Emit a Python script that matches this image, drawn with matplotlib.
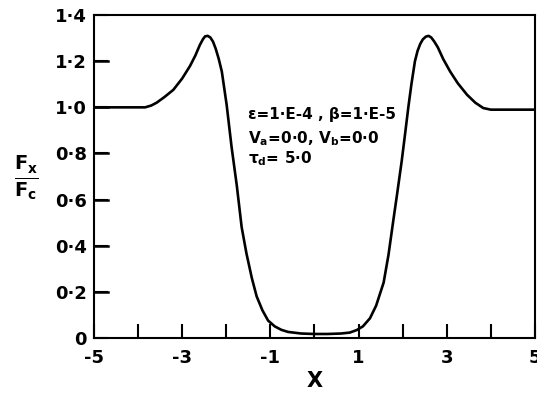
import matplotlib
matplotlib.use("Agg")
import matplotlib.pyplot as plt

# Normalised force ratio Fx/Fc across the domain
x = [-5.0, -4.5, -4.0, -3.84, -3.7, -3.58, -3.4, -3.2, -3.0, -2.82, -2.7, -2.6,
     -2.53, -2.48, -2.42, -2.36, -2.30, -2.24, -2.17, -2.10, -1.99, -1.88, -1.76,
     -1.65, -1.54, -1.42, -1.31, -1.18, -1.05, -0.9, -0.75, -0.6, -0.3, 0.0, 0.3,
     0.6, 0.8, 0.96, 1.1, 1.26, 1.4, 1.57, 1.68, 1.79, 1.88, 1.98, 2.06, 2.13,
     2.2, 2.28, 2.34, 2.40, 2.46, 2.53, 2.59, 2.65, 2.72, 2.80, 2.92, 3.08, 3.25,
     3.46, 3.65, 3.83, 4.0, 4.5, 5.0]
fx_fc = [1.0, 1.0, 1.0, 1.0, 1.008, 1.02, 1.045, 1.076, 1.125, 1.18, 1.225, 1.27,
         1.295, 1.308, 1.31, 1.303, 1.285, 1.255, 1.21, 1.155, 1.01, 0.83, 0.66,
         0.48, 0.365, 0.26, 0.18, 0.12, 0.075, 0.05, 0.035, 0.026, 0.019, 0.017,
         0.017, 0.019, 0.023, 0.034, 0.05, 0.085, 0.14, 0.24, 0.36, 0.51, 0.63,
         0.767, 0.89, 1.0, 1.1, 1.2, 1.245, 1.275, 1.295, 1.307, 1.31, 1.303,
         1.285, 1.26, 1.21, 1.155, 1.105, 1.055, 1.02, 0.997, 0.99, 0.99, 0.99]

x_ticks = [-5, -4, -3, -2, -1, 0, 1, 2, 3, 4, 5]
x_tick_labels = ['-5', '', '-3', '', '-1', '', '1', '', '3', '', '5']
y_ticks = [0, 0.2, 0.4, 0.6, 0.8, 1.0, 1.2, 1.4]
y_tick_labels = ['0', '0·2', '0·4', '0·6', '0·8', '1·0', '1·2', '1·4']

plt.rcParams['font.family'] = ['DejaVu Sans']
plt.rcParams['font.weight'] = 'bold'
plt.rcParams['mathtext.default'] = 'bf'

fig = plt.figure(figsize=(5.37, 3.98), dpi=100)
ax = fig.add_axes([0.175, 0.151, 0.821, 0.811])

ax.plot(x, fx_fc, color='black', linewidth=1.9, solid_joinstyle='round')

ax.set_xlim(-5, 5)
ax.set_ylim(0, 1.4)
ax.set_yticks(y_ticks, labels=y_tick_labels)
ax.set_xticks(x_ticks, labels=x_tick_labels)
ax.tick_params(axis='y', direction='in', length=10, width=1.5,
               labelsize=13, pad=5, left=True, right=False)
ax.tick_params(axis='x', direction='in', length=10, width=1.5,
               labelsize=13, pad=8, bottom=True, top=False)
for s in ax.spines.values():
    s.set_linewidth(1.5)

# inward marks along the left edge at each y tick
for v in y_ticks[1:-1]:
    ax.axhline(v, xmin=0, xmax=0.032, color='black', linewidth=1.8, zorder=6)

ax.set_xlabel('X', fontsize=15, fontweight='bold', labelpad=3)
fig.text(0.05, 0.555, r'$\frac{F_x}{F_c}$', fontsize=20, ha='center', va='center')

ax.text(-1.5, 0.97, 'ε=1·E-4 , β=1·E-5', fontsize=11, fontweight='bold', va='center')
ax.text(-1.5, 0.866, r'V$_a$=0·0, V$_b$=0·0', fontsize=11, fontweight='bold', va='center')
ax.text(-1.5, 0.776, r'τ$_d$= 5·0', fontsize=11, fontweight='bold', va='center')

fig.savefig('out.png', dpi=100)
